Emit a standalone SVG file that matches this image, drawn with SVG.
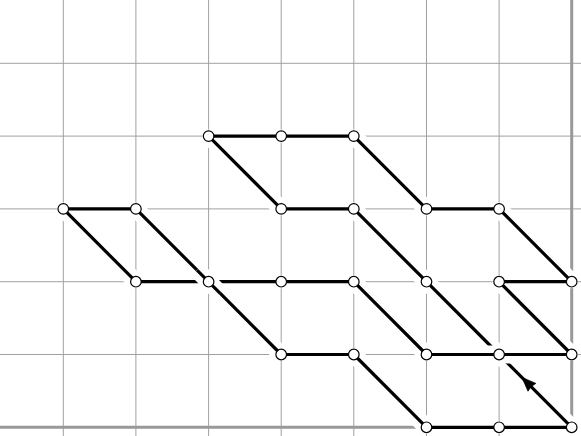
<svg xmlns="http://www.w3.org/2000/svg" width="581" height="436" viewBox="0 0 581 436">
<style>
.grid line{stroke:#a0a0a0;stroke-width:1}
.axis{stroke:#999;stroke-width:3;fill:none}
.halo{stroke:#fff;fill:none}
.ink{stroke:#000;stroke-width:3.2;fill:none;stroke-linejoin:round}
.node circle{fill:#fff;stroke:#000;stroke-width:1.2}
</style>
<rect x="0" y="0" width="581" height="436" fill="#fff"/>
<g class="grid">
<line x1="63.3" y1="0" x2="63.3" y2="436"/>
<line x1="135.9" y1="0" x2="135.9" y2="436"/>
<line x1="208.6" y1="0" x2="208.6" y2="436"/>
<line x1="281.2" y1="0" x2="281.2" y2="436"/>
<line x1="353.8" y1="0" x2="353.8" y2="436"/>
<line x1="426.5" y1="0" x2="426.5" y2="436"/>
<line x1="499.1" y1="0" x2="499.1" y2="436"/>
<line x1="0" y1="63.3" x2="581" y2="63.3"/>
<line x1="0" y1="136.1" x2="581" y2="136.1"/>
<line x1="0" y1="208.9" x2="581" y2="208.9"/>
<line x1="0" y1="281.7" x2="581" y2="281.7"/>
<line x1="0" y1="354.5" x2="581" y2="354.5"/>
</g>
<g id="axes">
<path class="axis" d="M0 427.3 H571.7 M571.7 0 V427.3"/>
</g>
<g id="connectors">
<path class="halo" stroke-width="13" stroke-linejoin="round" d="M571.7 427.3 L499.1 354.5 L426.5 281.7 L353.8 208.9 L281.2 208.9 L208.6 136.1 L281.2 136.1 L353.8 136.1 L426.5 208.9 L499.1 208.9 L571.7 281.7 L499.1 281.7 L571.7 354.5 L499.1 354.5 L426.5 354.5 L353.8 281.7 L281.2 281.7 L208.6 281.7 L135.9 281.7 L63.3 208.9 L135.9 208.9 L208.6 281.7 L281.2 354.5 L353.8 354.5 L426.5 427.3 L499.1 427.3 Z"/>
<path class="halo" stroke-width="17" d="M571.7 427.3 L353.8 208.9 M281.2 208.9 L208.6 136.1 M353.8 136.1 L426.5 208.9 M499.1 208.9 L571.7 281.7 M499.1 281.7 L571.7 354.5 M426.5 354.5 L353.8 281.7 M135.9 281.7 L63.3 208.9 M135.9 208.9 L281.2 354.5 M353.8 354.5 L426.5 427.3"/>
<path class="ink" d="M571.7 427.3 L499.1 354.5 L426.5 281.7 L353.8 208.9 L281.2 208.9 L208.6 136.1 L281.2 136.1 L353.8 136.1 L426.5 208.9 L499.1 208.9 L571.7 281.7 L499.1 281.7 L571.7 354.5 L499.1 354.5 L426.5 354.5 L353.8 281.7 L281.2 281.7 L208.6 281.7 L135.9 281.7 L63.3 208.9 L135.9 208.9 L208.6 281.7 L281.2 354.5 L353.8 354.5 L426.5 427.3 L499.1 427.3 Z"/>
<path class="halo" stroke-width="18" d="M482 354.5 H516"/>
<path class="ink" d="M482 354.5 H516"/>
<path class="halo" stroke-width="17" d="M197 270.1 L220.2 293.3"/>
<path class="ink" d="M197 270.1 L220.2 293.3"/>
<path d="M522 377.4 L535.8 383.4 Q530.5 386 528 391.2 Z" fill="#000" stroke="#000" stroke-width="0.8" stroke-linejoin="round"/>
</g>
<g class="node" id="n21"><circle cx="208.6" cy="136.1" r="5.3"/></g>
<g class="node" id="n31"><circle cx="281.2" cy="136.1" r="5.3"/></g>
<g class="node" id="n41"><circle cx="353.8" cy="136.1" r="5.3"/></g>
<g class="node" id="n02"><circle cx="63.3" cy="208.9" r="5.3"/></g>
<g class="node" id="n12"><circle cx="135.9" cy="208.9" r="5.3"/></g>
<g class="node" id="n32"><circle cx="281.2" cy="208.9" r="5.3"/></g>
<g class="node" id="n42"><circle cx="353.8" cy="208.9" r="5.3"/></g>
<g class="node" id="n52"><circle cx="426.5" cy="208.9" r="5.3"/></g>
<g class="node" id="n62"><circle cx="499.1" cy="208.9" r="5.3"/></g>
<g class="node" id="n13"><circle cx="135.9" cy="281.7" r="5.3"/></g>
<g class="node" id="n23"><circle cx="208.6" cy="281.7" r="5.3"/></g>
<g class="node" id="n33"><circle cx="281.2" cy="281.7" r="5.3"/></g>
<g class="node" id="n43"><circle cx="353.8" cy="281.7" r="5.3"/></g>
<g class="node" id="n53"><circle cx="426.5" cy="281.7" r="5.3"/></g>
<g class="node" id="n63"><circle cx="499.1" cy="281.7" r="5.3"/></g>
<g class="node" id="n73"><circle cx="571.7" cy="281.7" r="5.3"/></g>
<g class="node" id="n34"><circle cx="281.2" cy="354.5" r="5.3"/></g>
<g class="node" id="n44"><circle cx="353.8" cy="354.5" r="5.3"/></g>
<g class="node" id="n54"><circle cx="426.5" cy="354.5" r="5.3"/></g>
<g class="node" id="n64"><circle cx="499.1" cy="354.5" r="5.3"/></g>
<g class="node" id="n74"><circle cx="571.7" cy="354.5" r="5.3"/></g>
<g class="node" id="n55"><circle cx="426.5" cy="427.3" r="5.3"/></g>
<g class="node" id="n65"><circle cx="499.1" cy="427.3" r="5.3"/></g>
<g class="node" id="n75"><circle cx="571.7" cy="427.3" r="5.3"/></g>
</svg>
